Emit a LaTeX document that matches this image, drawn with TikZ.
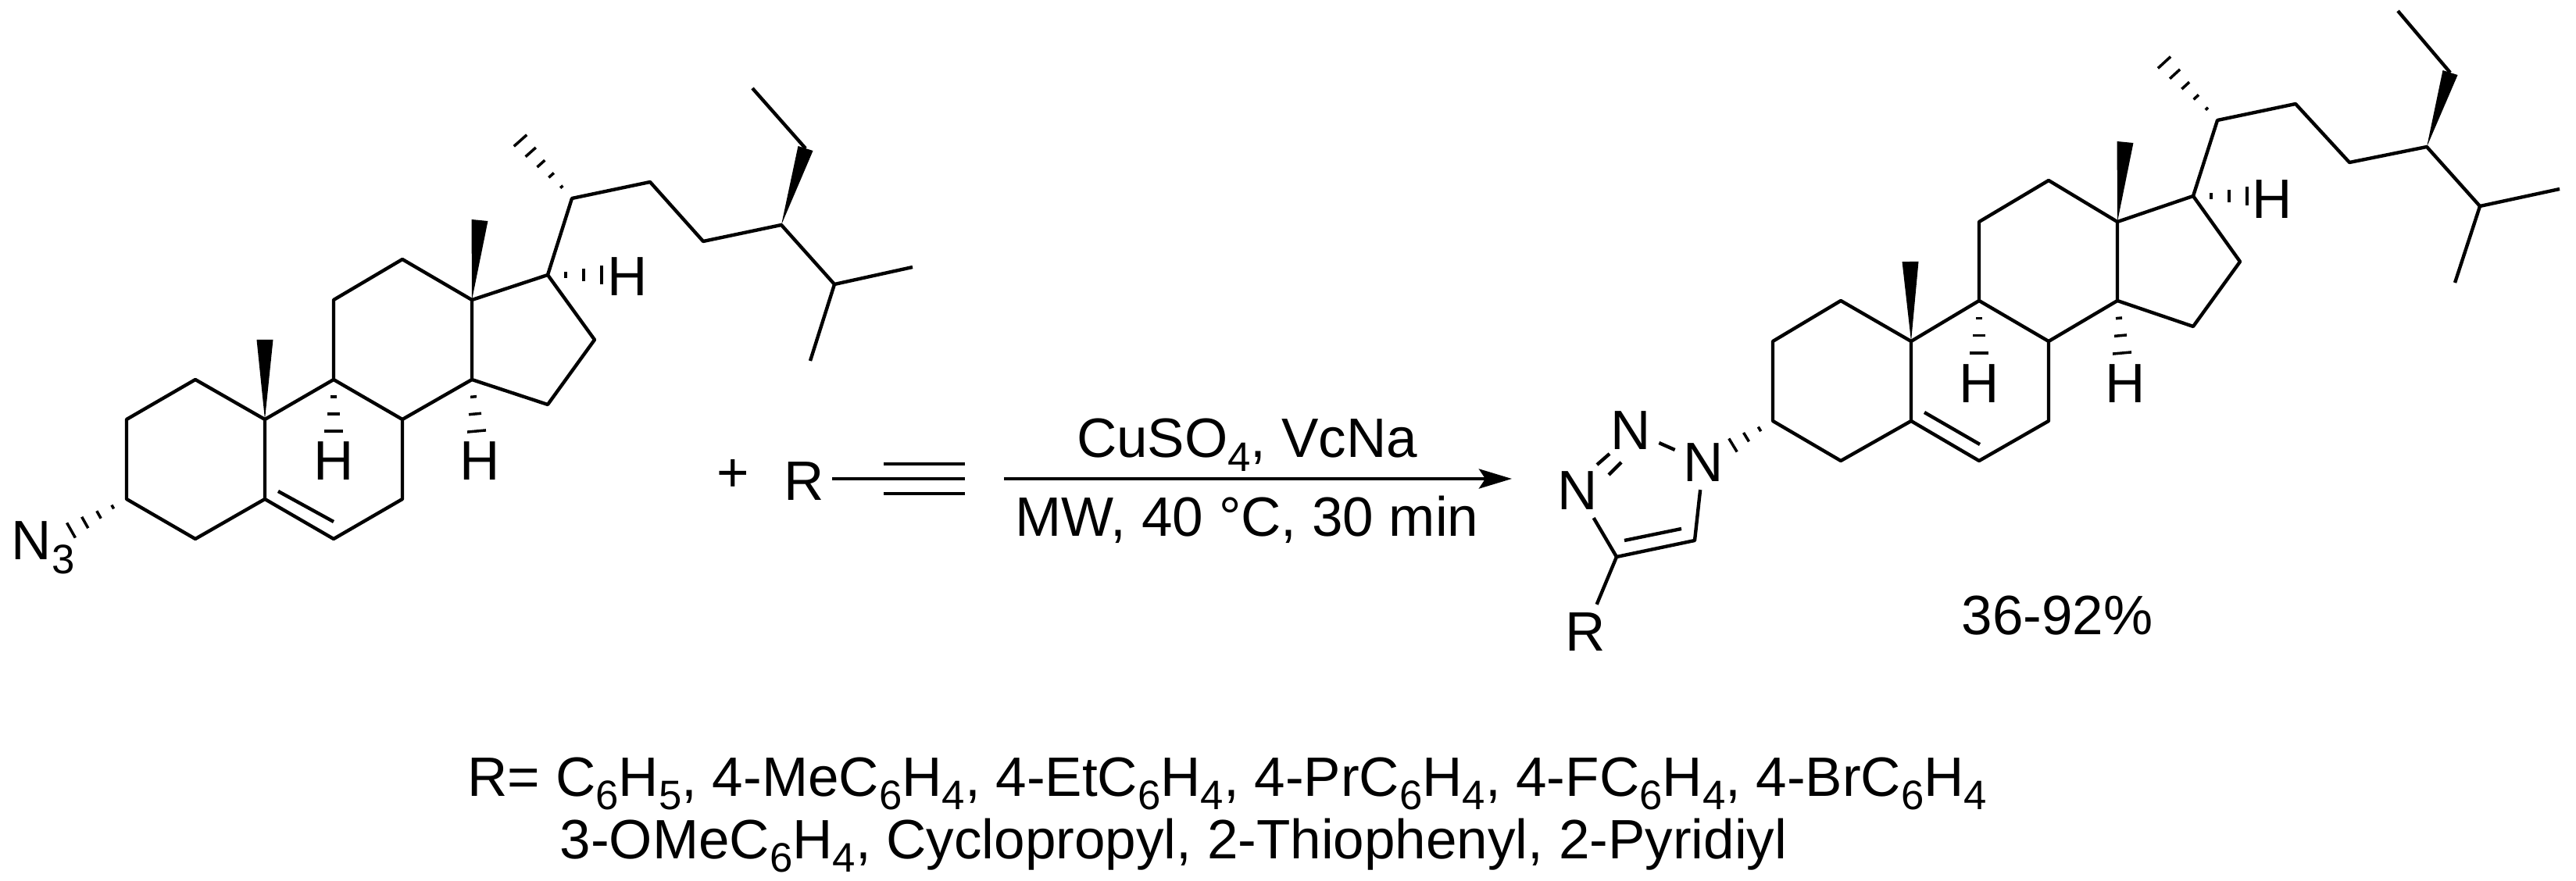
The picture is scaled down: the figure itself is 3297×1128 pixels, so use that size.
\documentclass[tikz,border=0pt]{standalone}
\usepackage{fontspec}
\setmainfont{Liberation Sans}
\usetikzlibrary{calc,arrows.meta}
\newcommand{\sbs}[1]{\raisebox{-0.25em}{\fontsize{15}{16}\selectfont #1}}
\newcommand{\hashbond}[4]{%
  \foreach \hI in {1,...,#3}{%
    \pgfmathsetmacro{\hT}{\hI/#3}%
    \pgfmathsetmacro{\hW}{#4*\hT*0.01}%
    \draw[hashstroke] ($(#1)!\hT!(#2)!\hW cm!90:(#1)$) -- ($(#1)!\hT!(#2)!-\hW cm!90:(#1)$);
  }}
\newcommand{\wedgebond}[3]{%
  \fill[wedgefill] (#1) -- ($(#2)!#3*0.01cm!90:(#1)$) -- ($(#2)!-#3*0.01cm!90:(#1)$) -- cycle;}
\tikzset{
  bond/.style={line width=1.25pt,line join=round,line cap=butt},
  hashstroke/.style={line width=1pt},
  wedgefill/.style={fill=black,draw=none},
  atomlabel/.style={inner sep=0.1cm,font=\fontsize{20.2}{22}\selectfont},
  txt/.style={inner sep=0pt,font=\fontsize{20.2}{22}\selectfont},
  rxnarrow/.style={line width=1.3pt,-{Stealth[length=0.42cm,width=0.25cm,inset=0.08cm]}},
}
\begin{document}
\begin{tikzpicture}[x=0.01cm,y=-0.01cm]
\useasboundingbox (0,0) rectangle (3297,1128);
% left steroid atoms
\foreach \n/\x/\y in {
  a1/250/486,a2/162/537,a3/162/639,a4/250/690,a5/339/639,a6/427/690,a7/515/639,a8/515/537,
  a9/427/486,a10/339/537,a11/427/384,a12/515/332,a13/604/384,a14/604/486,a15/701/518,
  a16/761/435,a17/701/352,a18/614/282,a19/339/435,a20/732/254,a21/666/180,a22/832/233,
  a23/900/309,a24/1000/288,a25/1068/364,a26/1168/342,a27/1037/462,a28/1031/190,a29/963/113,
  a6i/427/668,a5i/356/629,ah9/427/552,ah14/610/552,ah17/770/352,an/91/679}
  {\coordinate (\n) at (\x,\y);}
% right steroid atoms
\foreach \n/\x/\y in {
  b1/2356/385,b2/2269/437,b3/2269/539,b4/2356/590,b5/2446/539,b6/2533/590,b7/2622/539,b8/2622/437,
  b9/2533/385,b10/2446/437,b11/2533/284,b12/2622/231,b13/2710/284,b14/2710/385,b15/2807/418,
  b16/2867/335,b17/2807/251,b18/2720/182,b19/2445/335,b20/2838/154,b21/2770/80,b22/2938/133,
  b23/3007/208,b24/3106/188,b25/3174/264,b26/3276/242,b27/3142/362,b28/3136/93,b29/3069/14,
  b6i/2534/569,b5i/2463/528,bh9/2533/452,bh14/2716/452,bh17/2876/251,bn/2218/570,
  c4/2069/713,c5/2169/692,c4i/2079/692,c5i/2152/677,
  d1/2060/581,d2/2044/595,d3/2075/592,d4/2059/608,
  alk/1131/613,alke/1235/613,alku/1131/594,alkue/1235/594,alkd/1131/632,alkde/1235/632,
  arrs/1285/613,arre/1935/613}
  {\coordinate (\n) at (\x,\y);}
% labels
\node[txt,anchor=base west] (an3) at (14,717) {N\sbs{3}};
\node[atomlabel] (ah1) at (427.5,590) {H};
\node[atomlabel] (ah2) at (614,590) {H};
\node[atomlabel] (ah3) at (803,354.5) {H};
\node[atomlabel] (bh1) at (2533,491) {H};
\node[atomlabel] (bh2) at (2720,491) {H};
\node[atomlabel] (bh3) at (2908,255) {H};
\node[atomlabel] (n1) at (2180,592) {N};
\node[atomlabel] (n2) at (2087,551) {N};
\node[atomlabel] (n3) at (2019,628) {N};
\node[atomlabel] (rb) at (2029,809) {R};
\node[atomlabel] (ra) at (1029,616) {R};
\node[txt] (plus) at (938,609) {+};
\node[txt,anchor=base] (top) at (1596,586) {CuSO\sbs{4}, VcNa};
\node[txt,anchor=base] (bot) at (1596,686) {MW, 40 °C, 30 min};
\node[txt,anchor=base] (yield) at (2633,812) {36-92\%};
\node[txt,anchor=base west] (l1) at (598,1019) {R= C\sbs{6}H\sbs{5}, 4-MeC\sbs{6}H\sbs{4}, 4-EtC\sbs{6}H\sbs{4}, 4-PrC\sbs{6}H\sbs{4}, 4-FC\sbs{6}H\sbs{4}, 4-BrC\sbs{6}H\sbs{4}};
\node[txt,anchor=base west] (l2) at (716,1099) {3-OMeC\sbs{6}H\sbs{4}, Cyclopropyl, 2-Thiophenyl, 2-Pyridiyl};
% left bonds
\draw[bond] (a10) -- (a1) -- (a2) -- (a3) -- (a4) -- (a5) -- (a10) -- (a9) -- (a8) -- (a7) -- (a6) -- (a5);
\draw[bond] (a5i) -- (a6i);
\draw[bond] (a9) -- (a11) -- (a12) -- (a13) -- (a14) -- (a8);
\draw[bond] (a13) -- (a17) -- (a16) -- (a15) -- (a14);
\draw[bond] (a17) -- (a20) -- (a22) -- (a23) -- (a24) -- (a25) -- (a26);
\draw[bond] (a25) -- (a27);
\draw[bond] (a28) -- (a29);
\wedgebond{a10}{a19}{10.5}
\wedgebond{a13}{a18}{10.5}
\wedgebond{a24}{a28}{10}
\hashbond{a9}{ah9}{3}{12}
\hashbond{a14}{ah14}{3}{12}
\hashbond{a17}{ah17}{3}{12}
\hashbond{a3}{an}{4}{11}
\hashbond{a20}{a21}{5}{11}
% right bonds
\draw[bond] (b10) -- (b1) -- (b2) -- (b3) -- (b4) -- (b5) -- (b10) -- (b9) -- (b8) -- (b7) -- (b6) -- (b5);
\draw[bond] (b5i) -- (b6i);
\draw[bond] (b9) -- (b11) -- (b12) -- (b13) -- (b14) -- (b8);
\draw[bond] (b13) -- (b17) -- (b16) -- (b15) -- (b14);
\draw[bond] (b17) -- (b20) -- (b22) -- (b23) -- (b24) -- (b25) -- (b26);
\draw[bond] (b25) -- (b27);
\draw[bond] (b28) -- (b29);
\wedgebond{b10}{b19}{10.5}
\wedgebond{b13}{b18}{10.5}
\wedgebond{b24}{b28}{10}
\hashbond{b9}{bh9}{3}{12}
\hashbond{b14}{bh14}{3}{12}
\hashbond{b17}{bh17}{3}{12}
\hashbond{b3}{bn}{3}{10}
\hashbond{b20}{b21}{5}{11}
% triazole
\draw[bond] (n1) -- (n2);
\draw[bond] (d1) -- (d2);
\draw[bond] (d3) -- (d4);
\draw[bond] (n3) -- (c4) -- (c5) -- (n1);
\draw[bond] (c4i) -- (c5i);
\draw[bond] (c4) -- (rb);
% alkyne
\draw[bond] (ra.east |- alk) -- (alk) -- (alke);
\draw[bond] (alku) -- (alkue);
\draw[bond] (alkd) -- (alkde);
% arrow
\draw[rxnarrow] (arrs) -- (arre);
\end{tikzpicture}
\end{document}
